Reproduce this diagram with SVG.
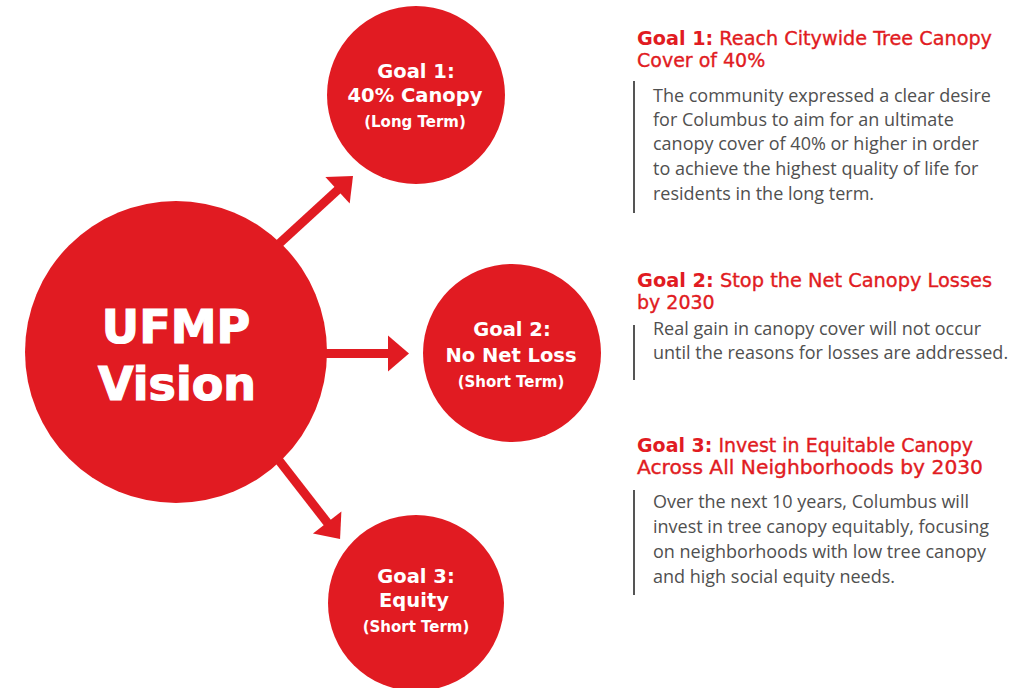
<svg xmlns="http://www.w3.org/2000/svg" width="1025" height="688" viewBox="0 0 1025 688">
<style>
.c{fill:#e11b22}
.ct{font-family:"DejaVu Sans",sans-serif;font-weight:bold;fill:#fff;text-anchor:middle}
.big{font-size:46px;stroke:#fff;stroke-width:1.2px}
.g{font-size:19.5px}
.s{font-size:15px}
.h{font-family:"DejaVu Sans",sans-serif;font-size:19px;fill:#e11b22;stroke:#e11b22;stroke-width:0.35px}
.h .b{font-weight:bold;stroke-width:0}
.t{font-family:"Open Sans",sans-serif;font-size:18px;fill:#505050}
.bar{stroke:#555;stroke-width:2}
.arr{stroke:#e11b22;stroke-width:9;fill:none}
</style>
<defs>
<marker id="ah" markerUnits="userSpaceOnUse" markerWidth="22" markerHeight="38" refX="2" refY="18" orient="auto" overflow="visible">
<path d="M0,0 L21,18 L0,36 z" fill="#e11b22"/>
</marker>
</defs>
<rect width="1025" height="688" fill="#fff"/>
<g id="connectors">
<line class="arr" x1="270" y1="252" x2="339" y2="188.8" marker-end="url(#ah)"/>
<line class="arr" x1="315" y1="353.5" x2="390" y2="353.5" marker-end="url(#ah)"/>
<line class="arr" x1="274" y1="454" x2="328.4" y2="524" marker-end="url(#ah)"/>
</g>
<g id="vision">
<circle class="c" cx="176" cy="352" r="151"/>
<text class="ct big" x="176" y="343">UFMP</text>
<text class="ct big" x="177" y="400">Vision</text>
</g>
<g id="goal1">
<circle class="c" cx="416" cy="95" r="89"/>
<text class="ct g" x="416" y="78">Goal 1:</text>
<text class="ct g" x="415" y="102">40% Canopy</text>
<text class="ct s" x="415" y="127">(Long Term)</text>
</g>
<g id="goal2">
<circle class="c" cx="512" cy="353" r="89"/>
<text class="ct g" x="512" y="336">Goal 2:</text>
<text class="ct g" x="511" y="362">No Net Loss</text>
<text class="ct s" x="511" y="387">(Short Term)</text>
</g>
<g id="goal3">
<circle class="c" cx="416" cy="603" r="88"/>
<text class="ct g" x="416" y="583">Goal 3:</text>
<text class="ct g" x="414" y="607">Equity</text>
<text class="ct s" x="416" y="632">(Short Term)</text>
</g>
<g id="desc1">
<text class="h" x="637" y="45" textLength="355" lengthAdjust="spacingAndGlyphs"><tspan class="b">Goal 1:</tspan> Reach Citywide Tree Canopy</text>
<text class="h" x="637" y="67">Cover of 40%</text>
<line class="bar" x1="634" y1="81" x2="634" y2="213"/>
<text class="t" x="653" y="102">The community expressed a clear desire</text>
<text class="t" x="653" y="126">for Columbus to aim for an ultimate</text>
<text class="t" x="653" y="150">canopy cover of 40% or higher in order</text>
<text class="t" x="653" y="175">to achieve the highest quality of life for</text>
<text class="t" x="653" y="200">residents in the long term.</text>
</g>
<g id="desc2">
<text class="h" x="637" y="287" textLength="355" lengthAdjust="spacingAndGlyphs"><tspan class="b">Goal 2:</tspan> Stop the Net Canopy Losses</text>
<text class="h" x="637" y="309">by 2030</text>
<line class="bar" x1="634" y1="325" x2="634" y2="380"/>
<text class="t" x="653" y="335">Real gain in canopy cover will not occur</text>
<text class="t" x="653" y="359">until the reasons for losses are addressed.</text>
</g>
<g id="desc3">
<text class="h" x="637" y="452" textLength="336" lengthAdjust="spacingAndGlyphs"><tspan class="b">Goal 3:</tspan> Invest in Equitable Canopy</text>
<text class="h" x="637" y="474" textLength="346" lengthAdjust="spacingAndGlyphs">Across All Neighborhoods by 2030</text>
<line class="bar" x1="634" y1="490" x2="634" y2="595"/>
<text class="t" x="653" y="508">Over the next 10 years, Columbus will</text>
<text class="t" x="653" y="533">invest in tree canopy equitably, focusing</text>
<text class="t" x="653" y="558">on neighborhoods with low tree canopy</text>
<text class="t" x="653" y="583">and high social equity needs.</text>
</g>
</svg>
